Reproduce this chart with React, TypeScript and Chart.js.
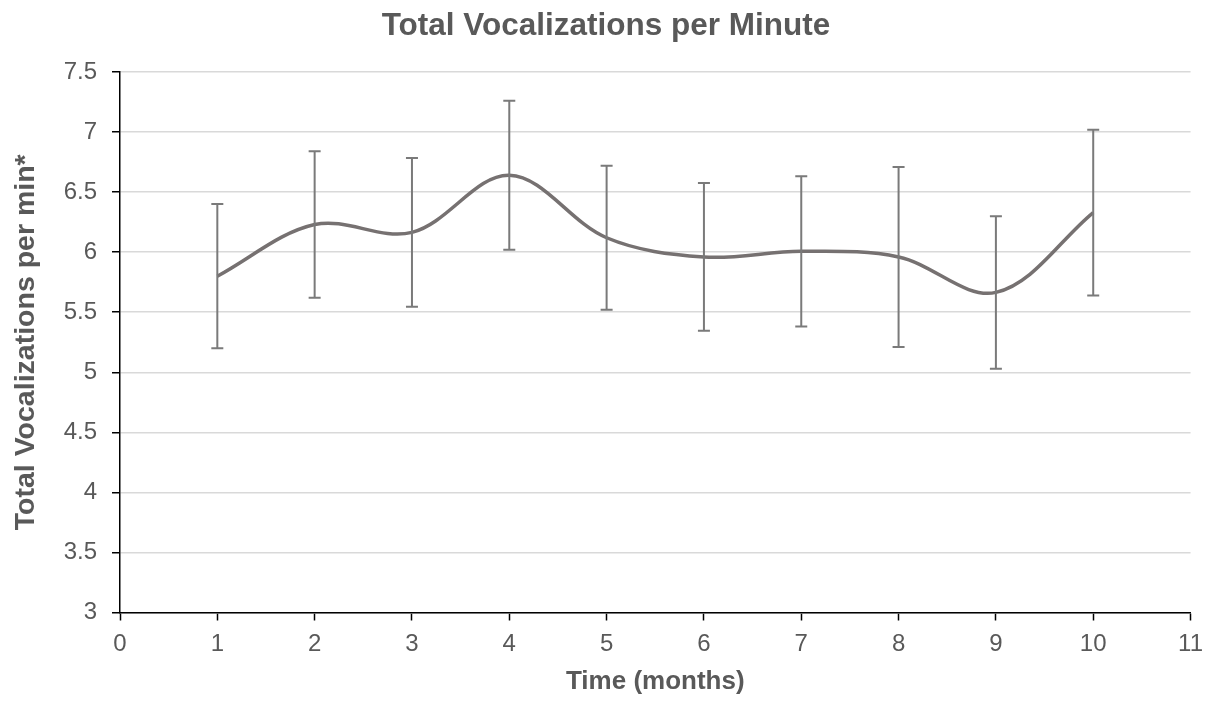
import React, { useEffect, useRef } from "react";
import { Chart, registerables } from "chart.js";

Chart.register(...registerables);

// ---- data ----
const months = [1, 2, 3, 4, 5, 6, 7, 8, 9, 10];
const meanVocalizations = [5.8, 6.23, 6.165, 6.64, 6.12, 5.96, 6.007, 5.96, 5.665, 6.33];
const errorValues = [0.6, 0.61, 0.62, 0.62, 0.6, 0.615, 0.625, 0.75, 0.635, 0.69];
const xTickValues = [0, 1, 2, 3, 4, 5, 6, 7, 8, 9, 10, 11];
const yTickValues = [3, 3.5, 4, 4.5, 5, 5.5, 6, 6.5, 7, 7.5];
const chartTitle = "Total Vocalizations per Minute";
const xAxisTitle = "Time (months)";
const yAxisTitle = "Total Vocalizations per min*";

const FONT = "'Liberation Sans', Arial, sans-serif";
const TEXT_COLOR = "#595959";

const errorBarPlugin = {
  id: "errorBars",
  afterDatasetsDraw(chart: any) {
    const { ctx, scales } = chart;
    const x = scales.x;
    const y = scales.y;
    ctx.save();
    ctx.strokeStyle = "#7a7a7a";
    ctx.lineWidth = 2;
    months.forEach((m, i) => {
      const px = x.getPixelForValue(m);
      const top = y.getPixelForValue(meanVocalizations[i] + errorValues[i]);
      const bot = y.getPixelForValue(meanVocalizations[i] - errorValues[i]);
      ctx.beginPath();
      ctx.moveTo(px, top);
      ctx.lineTo(px, bot);
      ctx.moveTo(px - 6, top);
      ctx.lineTo(px + 6, top);
      ctx.moveTo(px - 6, bot);
      ctx.lineTo(px + 6, bot);
      ctx.stroke();
    });
    ctx.restore();
  },
};

const titlesPlugin = {
  id: "titles",
  afterDraw(chart: any) {
    const { ctx, width, chartArea } = chart;
    ctx.save();
    ctx.fillStyle = TEXT_COLOR;
    ctx.textAlign = "center";
    ctx.textBaseline = "alphabetic";
    // chart title
    ctx.font = `bold 31.5px ${FONT}`;
    ctx.fillText(chartTitle, width / 2, 35);
    // y axis title, centred on the plot area
    ctx.translate(34, (chartArea.top + chartArea.bottom) / 2);
    ctx.rotate(-Math.PI / 2);
    ctx.font = `bold 28.5px ${FONT}`;
    ctx.fillText(yAxisTitle, 0, 0);
    ctx.restore();
  },
};

export default function App() {
  const canvasRef = useRef<HTMLCanvasElement | null>(null);

  useEffect(() => {
    if (!canvasRef.current) return;
    const chart = new Chart(canvasRef.current, {
      type: "line",
      data: {
        datasets: [
          {
            data: months.map((m, i) => ({ x: m, y: meanVocalizations[i] })),
            borderColor: "#767171",
            borderWidth: 3.5,
            pointRadius: 0,
            tension: 0.35,
            fill: false,
          },
        ],
      },
      options: {
        animation: false,
        responsive: false,
        devicePixelRatio: 1,
        layout: { padding: { left: 0, right: 20, top: 72, bottom: 0 } },
        plugins: {
          legend: { display: false },
          tooltip: { enabled: false },
          title: { display: false },
        },
        scales: {
          x: {
            type: "linear",
            min: 0,
            max: 11,
            afterBuildTicks: (scale: any) => {
              scale.ticks = xTickValues.map((v) => ({ value: v }));
            },
            afterFit: (scale: any) => {
              scale.height = 91.5;
            },
            ticks: {
              autoSkip: false,
              maxRotation: 0,
              padding: 9,
              color: TEXT_COLOR,
              font: { family: FONT, size: 24 },
              callback: (v: any) => String(v),
            },
            grid: {
              drawOnChartArea: false,
              drawTicks: true,
              tickLength: 8,
              tickColor: "#000000",
              tickWidth: 1.5,
            },
            border: { display: true, color: "#000000", width: 1.5 },
            title: {
              display: true,
              text: xAxisTitle,
              color: TEXT_COLOR,
              font: { family: FONT, size: 26, weight: "bold" },
              padding: { top: 0, bottom: 7 },
            },
          },
          y: {
            type: "linear",
            min: 3,
            max: 7.5,
            afterBuildTicks: (scale: any) => {
              scale.ticks = yTickValues.map((v) => ({ value: v }));
            },
            afterFit: (scale: any) => {
              scale.width = 120;
            },
            ticks: {
              autoSkip: false,
              padding: 15,
              color: TEXT_COLOR,
              font: { family: FONT, size: 24 },
              callback: (v: any) => String(v),
            },
            grid: {
              color: "#d9d9d9",
              lineWidth: 1.5,
              drawTicks: true,
              tickLength: 8,
              tickColor: "#000000",
              tickWidth: 1.5,
            },
            border: { display: true, color: "#000000", width: 1.5 },
          },
        },
      },
      plugins: [errorBarPlugin, titlesPlugin],
    });
    return () => chart.destroy();
  }, []);

  return (
    <div style={{ position: "absolute", left: 0, top: 0, width: 1212, height: 704, background: "#ffffff" }}>
      <canvas ref={canvasRef} width={1212} height={704} style={{ display: "block" }} />
    </div>
  );
}
